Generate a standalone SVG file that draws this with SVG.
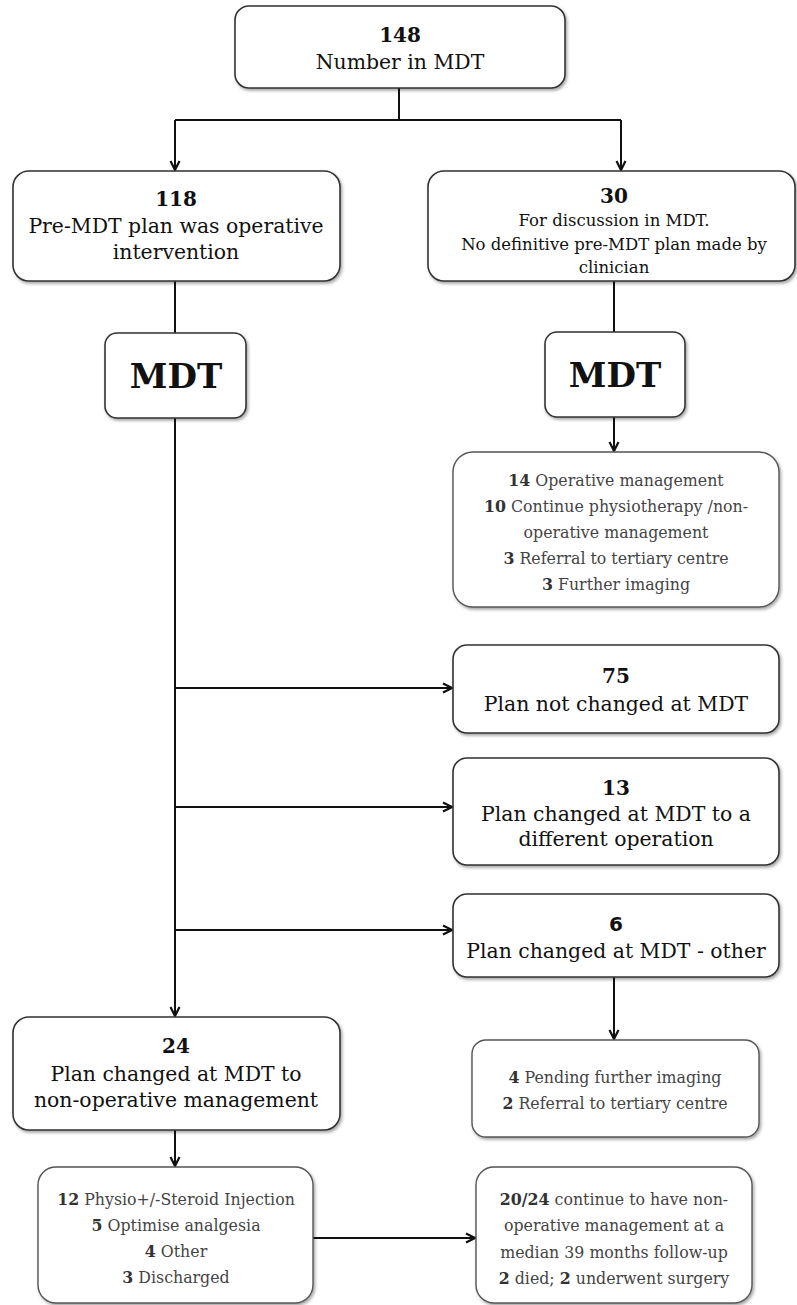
<svg xmlns="http://www.w3.org/2000/svg" width="797" height="1305" viewBox="0 0 797 1305">
<defs>
<filter id="sh" x="-10%" y="-10%" width="125%" height="130%">
<feDropShadow dx="1.5" dy="2" stdDeviation="1.5" flood-color="#000" flood-opacity="0.35"/>
</filter>
<marker id="ah" viewBox="0 0 12 12" refX="11" refY="6" markerWidth="12" markerHeight="12" markerUnits="userSpaceOnUse" orient="auto">
<path d="M2,1.5 L11,6 L2,10.5" fill="none" stroke="#111" stroke-width="2.2"/>
</marker>
<style>
.box{fill:#fff;stroke:#333;stroke-width:1.6;filter:url(#sh)}
.lbox{fill:#fff;stroke:#555;stroke-width:1.4;filter:url(#sh)}
text{font-family:"DejaVu Serif","Liberation Serif",serif;text-anchor:middle;fill:#111}
.n{font-weight:bold;font-size:20px}
.t{font-size:20.4px}
.s{font-size:16.5px}
.mdt{font-weight:bold;font-size:34px}
.l{font-size:15.8px;fill:#444}
.l tspan.b{font-weight:bold;fill:#333}
.c{fill:none;stroke:#111;stroke-width:2}
</style>
</defs>
<g id="connectors">
<path class="c" d="M399,88 V120"/>
<path class="c" d="M175,120 H621"/>
<path class="c" d="M175,120 V170" marker-end="url(#ah)"/>
<path class="c" d="M621,120 V170" marker-end="url(#ah)"/>
<path class="c" d="M175,281 V333"/>
<path class="c" d="M614,281 V332"/>
<path class="c" d="M614,417 V451" marker-end="url(#ah)"/>
<path class="c" d="M175,418 V1016" marker-end="url(#ah)"/>
<path class="c" d="M175,688 H452" marker-end="url(#ah)"/>
<path class="c" d="M175,807 H452" marker-end="url(#ah)"/>
<path class="c" d="M175,930 H452" marker-end="url(#ah)"/>
<path class="c" d="M614,977 V1039" marker-end="url(#ah)"/>
<path class="c" d="M175,1130 V1166" marker-end="url(#ah)"/>
<path class="c" d="M313,1238 H475" marker-end="url(#ah)"/>
</g>
<g id="n148">
<rect class="box" x="235" y="6" width="330" height="82" rx="14"/>
<text class="n" x="400" y="42">148</text>
<text class="t" x="400" y="69">Number in MDT</text>
</g>
<g id="n118">
<rect class="box" x="13" y="171" width="327" height="110" rx="16"/>
<text class="n" x="176" y="206">118</text>
<text class="t" x="176" y="233">Pre-MDT plan was operative</text>
<text class="t" x="176" y="259">intervention</text>
</g>
<g id="n30">
<rect class="box" x="428" y="171" width="367" height="110" rx="16"/>
<text class="n" x="614" y="203">30</text>
<text class="s" x="614" y="226">For discussion in MDT.</text>
<text class="s" x="614" y="250">No definitive pre-MDT plan made by</text>
<text class="s" x="614" y="273">clinician</text>
</g>
<g id="mdtL">
<rect class="box" x="105" y="333" width="141" height="85" rx="12"/>
<text class="mdt" x="176" y="388">MDT</text>
</g>
<g id="mdtR">
<rect class="box" x="545" y="332" width="140" height="85" rx="12"/>
<text class="mdt" x="615" y="387">MDT</text>
</g>
<g id="list30">
<rect class="lbox" x="453" y="452" width="326" height="155" rx="20"/>
<text class="l" x="616" y="486"><tspan class="b">14</tspan> Operative management</text>
<text class="l" x="616" y="512"><tspan class="b">10</tspan> Continue physiotherapy /non-</text>
<text class="l" x="616" y="538">operative management</text>
<text class="l" x="616" y="564"><tspan class="b">3</tspan> Referral to tertiary centre</text>
<text class="l" x="616" y="590"><tspan class="b">3</tspan> Further imaging</text>
</g>
<g id="n75">
<rect class="box" x="453" y="645" width="326" height="88" rx="14"/>
<text class="n" x="616" y="683">75</text>
<text class="t" x="616" y="711">Plan not changed at MDT</text>
</g>
<g id="n13">
<rect class="box" x="453" y="758" width="326" height="107" rx="14"/>
<text class="n" x="616" y="795">13</text>
<text class="t" x="616" y="821">Plan changed at MDT to a</text>
<text class="t" x="616" y="846">different operation</text>
</g>
<g id="n6">
<rect class="box" x="453" y="894" width="326" height="83" rx="14"/>
<text class="n" x="616" y="931" style="font-family:'DejaVu Sans',sans-serif">6</text>
<text class="t" x="616" y="958">Plan changed at MDT - other</text>
</g>
<g id="pending">
<rect class="lbox" x="472" y="1040" width="287" height="97" rx="14"/>
<text class="l" x="615" y="1083"><tspan class="b">4</tspan> Pending further imaging</text>
<text class="l" x="615" y="1109"><tspan class="b">2</tspan> Referral to tertiary centre</text>
</g>
<g id="n24">
<rect class="box" x="13" y="1017" width="327" height="113" rx="16"/>
<text class="n" x="176" y="1053">24</text>
<text class="t" x="176" y="1081">Plan changed at MDT to</text>
<text class="t" x="176" y="1107">non-operative management</text>
</g>
<g id="list24">
<rect class="lbox" x="38" y="1167" width="275" height="136" rx="18"/>
<text class="l" x="176" y="1205"><tspan class="b">12</tspan> Physio+/-Steroid Injection</text>
<text class="l" x="176" y="1231"><tspan class="b">5</tspan> Optimise analgesia</text>
<text class="l" x="176" y="1257"><tspan class="b">4</tspan> Other</text>
<text class="l" x="176" y="1283"><tspan class="b">3</tspan> Discharged</text>
</g>
<g id="followup">
<rect class="lbox" x="476" y="1167" width="276" height="136" rx="18"/>
<text class="l" x="614" y="1205"><tspan class="b">20/24</tspan> continue to have non-</text>
<text class="l" x="614" y="1231">operative management at a</text>
<text class="l" x="614" y="1258">median 39 months follow-up</text>
<text class="l" x="614" y="1284"><tspan class="b">2</tspan> died; <tspan class="b">2</tspan> underwent surgery</text>
</g>
</svg>
